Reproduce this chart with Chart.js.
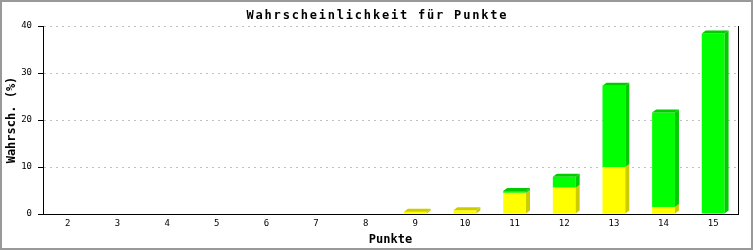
<!DOCTYPE html>
<html lang="de">
<head>
    <meta charset="UTF-8">
    <title>Wahrscheinlichkeit für Punkte</title>
    <script src="https://cdn.jsdelivr.net/npm/chart.js"></script>
    <style>
        body { margin: 0; background: #fff; }
        canvas { display: block; }
    </style>
</head>
<body>
    <canvas id="punkteChart" width="753" height="250"></canvas>

    <script>
        // Daten
        const punkte = ['2', '3', '4', '5', '6', '7', '8', '9', '10', '11', '12', '13', '14', '15'];
        const gelb = [0, 0, 0, 0, 0, 0, 0, 0.5, 0.8, 4.5, 5.6, 10.0, 1.5, 0];
        const gruen = [0, 0, 0, 0, 0, 0, 0, 0, 0, 0.4, 2.3, 17.3, 20.1, 38.4];
        const yTicks = [0, 10, 20, 30, 40];
        const titel = 'Wahrscheinlichkeit für Punkte';

        const fillColors = ['#ffff00', '#00ff00'];
        const sideColors = ['#cccc00', '#00cc00'];
        const fontFamily = "'DejaVu Sans Mono', 'Liberation Mono', monospace";

        // 3D look: side and top faces next to every bar
        const depthPlugin = {
            id: 'depth',
            afterDatasetsDraw(chart) {
                const ctx = chart.ctx;
                const dx = 4, dy = 3;
                const sets = chart.data.datasets;
                chart.data.labels.forEach((lbl, i) => {
                    let topSet = -1;
                    sets.forEach((ds, d) => { if (ds.data[i] > 0) topSet = d; });
                    sets.forEach((ds, d) => {
                        if (!(ds.data[i] > 0)) return;
                        const bar = chart.getDatasetMeta(d).data[i];
                        const l = bar.x - bar.width / 2;
                        const r = bar.x + bar.width / 2;
                        const t = bar.y, b = bar.base;
                        ctx.save();
                        ctx.fillStyle = sideColors[d];
                        ctx.beginPath();
                        ctx.moveTo(r, b);
                        ctx.lineTo(r + dx, b - dy);
                        ctx.lineTo(r + dx, t - dy);
                        ctx.lineTo(r, t);
                        ctx.closePath();
                        ctx.fill();
                        if (d === topSet) {
                            ctx.beginPath();
                            ctx.moveTo(l, t);
                            ctx.lineTo(l + dx, t - dy);
                            ctx.lineTo(r + dx, t - dy);
                            ctx.lineTo(r, t);
                            ctx.closePath();
                            ctx.fill();
                        }
                        ctx.restore();
                    });
                });
            }
        };

        // title (wide letter spacing), right plot edge and grey frame
        const framePlugin = {
            id: 'frame',
            afterDraw(chart) {
                const ctx = chart.ctx;
                const a = chart.chartArea;
                ctx.save();
                ctx.font = 'bold 12px ' + fontFamily;
                ctx.fillStyle = '#000';
                ctx.textAlign = 'center';
                ctx.textBaseline = 'alphabetic';
                const spacing = 1.8;
                if ('letterSpacing' in ctx) ctx.letterSpacing = spacing + 'px';
                ctx.fillText(titel, chart.width / 2 + spacing / 2, 18.5);
                if ('letterSpacing' in ctx) ctx.letterSpacing = '0px';

                ctx.strokeStyle = '#000';
                ctx.lineWidth = 1;
                ctx.beginPath();
                ctx.moveTo(Math.round(a.right) + 0.5, a.top);
                ctx.lineTo(Math.round(a.right) + 0.5, a.bottom);
                ctx.stroke();
                ctx.strokeStyle = '#999';
                ctx.lineWidth = 2;
                ctx.strokeRect(1, 1, chart.width - 2, chart.height - 2);
                ctx.restore();
            }
        };

        const ctx = document.getElementById('punkteChart').getContext('2d');
        new Chart(ctx, {
            type: 'bar',
            data: {
                labels: punkte,
                datasets: [
                    { label: 'gelb', data: gelb, backgroundColor: fillColors[0] },
                    { label: 'grün', data: gruen, backgroundColor: fillColors[1] }
                ]
            },
            plugins: [depthPlugin, framePlugin],
            options: {
                responsive: false,
                animation: false,
                events: [],
                barPercentage: 0.46,
                categoryPercentage: 1,
                layout: { padding: { left: 0, right: 15, top: 26, bottom: 0 } },
                plugins: {
                    legend: { display: false },
                    tooltip: { enabled: false },
                    title: { display: false }
                },
                scales: {
                    x: {
                        stacked: true,
                        afterFit(scale) { scale.height = 36; },
                        grid: { display: false, drawTicks: false },
                        border: { display: true, color: '#000', width: 1 },
                        ticks: {
                            color: '#000',
                            padding: 4,
                            maxRotation: 0,
                            font: { family: fontFamily, size: 9 }
                        },
                        title: {
                            display: true,
                            text: 'Punkte',
                            color: '#000',
                            font: { family: fontFamily, size: 12, weight: 'bold', lineHeight: 1.2 },
                            padding: { top: 0, bottom: 3 }
                        }
                    },
                    y: {
                        stacked: true,
                        min: 0,
                        max: 40,
                        afterFit(scale) { scale.width = 43; },
                        afterBuildTicks(scale) {
                            scale.ticks = yTicks.map(v => ({ value: v }));
                        },
                        grid: {
                            color: c => (c.tick && c.tick.value === 0) ? 'rgba(0,0,0,0)' : '#c0c0c0',
                            tickColor: '#000',
                            tickLength: 5,
                            tickBorderDash: []
                        },
                        border: { display: true, color: '#000', width: 1, dash: [2, 4] },
                        ticks: {
                            color: '#000',
                            padding: 6,
                            font: { family: fontFamily, size: 9 }
                        },
                        title: {
                            display: true,
                            text: 'Wahrsch. (%)',
                            color: '#000',
                            font: { family: fontFamily, size: 12, weight: 'bold', lineHeight: 1.2 },
                            padding: { top: 5, bottom: 0 }
                        }
                    }
                }
            }
        });
    </script>
</body>
</html>
